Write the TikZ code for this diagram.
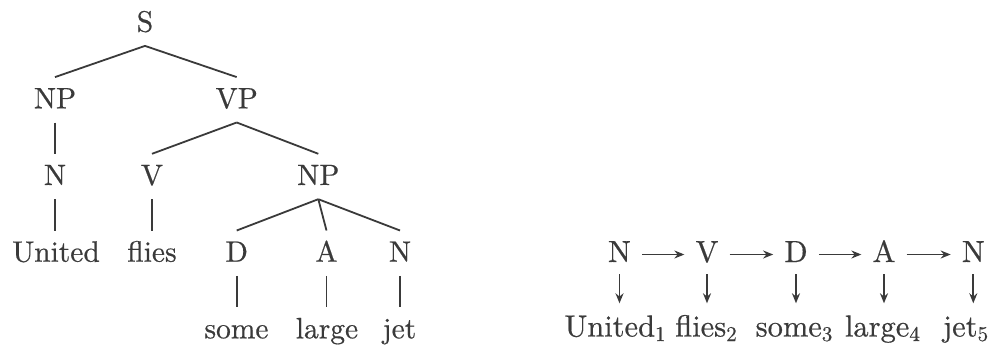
\documentclass[tikz,border=0pt]{standalone}
\usepackage{fontspec}
\setmainfont{lmroman10-regular}[Extension=.otf, FakeBold=0.5]
\usetikzlibrary{arrows.meta}
\definecolor{ink}{HTML}{3A3A3A}
\newcommand\lowidx[1]{\raisebox{-4.5pt}{\fontsize{21}{22}\selectfont #1}}
\begin{document}
\begin{tikzpicture}[x=1pt,y=-1pt,
  tl/.style={font=\fontsize{29.5}{34}\selectfont, text=ink, anchor=base,
    text height=20.5pt, text depth=3.5pt, inner ysep=10.5pt, inner xsep=2pt},
  rn/.style={font=\fontsize{30.5}{34}\selectfont, text=ink, anchor=base,
    text height=20.5pt, text depth=5.5pt, inner ysep=6.5pt, inner xsep=11pt},
  rw/.style={font=\fontsize{30.5}{34}\selectfont, text=ink, anchor=base,
    text height=21pt, text depth=6pt, inner ysep=12pt, inner xsep=0pt},
  tree/.style={draw=ink, line width=1.8pt},
  arr/.style={draw=ink, line width=1.7pt, -{Stealth[length=10pt,width=8pt]}}]
\useasboundingbox (0,0) rectangle (998,345);
% left tree
\node[tl] (S) at (145,31.7) {S};
\node[tl] (NPa) at (55,108.3) {NP};
\node[tl] (VP) at (236.7,108.3) {VP};
\node[tl] (Na) at (55,185) {N};
\node[tl] (V) at (152,185) {V};
\node[tl] (NPb) at (318.3,185) {NP};
\node[tl] (United) at (56,261.7) {United};
\node[tl] (flies) at (152,261.7) {flies};
\node[tl] (D) at (236.7,261.7) {D};
\node[tl] (A) at (326.5,261.7) {A};
\node[tl] (Nb) at (400,261.7) {N};
\node[tl] (some) at (236.5,338.3) {some};
\node[tl] (large) at (327,338.3) {large};
\node[tl] (jet) at (399.5,338.3) {jet};
\draw[tree] (S.south) -- (NPa.north);
\draw[tree] (S.south) -- (VP.north);
\draw[tree] (NPa.south) -- (Na.north);
\draw[tree] (VP.south) -- (V.north);
\draw[tree] (VP.south) -- (NPb.north);
\draw[tree] (Na.south) -- (Na.south |- United.north);
\draw[tree] (V.south) -- (V.south |- flies.north);
\draw[tree] (NPb.south) -- (D.north);
\draw[tree] (NPb.south) -- (A.north);
\draw[tree] (NPb.south) -- (Nb.north);
\draw[tree] (D.south) -- (D.south |- some.north);
\draw[tree] (A.south) -- (A.south |- large.north);
\draw[tree] (Nb.south) -- (Nb.south |- jet.north);
% right chain
\node[rn] (r1) at (619.5,262) {N};
\node[rn] (r2) at (707,262) {V};
\node[rn] (r3) at (796,262) {D};
\node[rn] (r4) at (884,262) {A};
\node[rn] (r5) at (973.3,262) {N};
\node[rw] (w1) at (615,336.5) {United\lowidx{1}};
\node[rw] (w2) at (706,336.5) {flies\lowidx{2}};
\node[rw] (w3) at (794,336.5) {some\lowidx{3}};
\node[rw] (w4) at (882.4,336.5) {large\lowidx{4}};
\node[rw] (w5) at (965.5,336.5) {jet\lowidx{5}};
\draw[arr] (r1.east) -- (r2.west);
\draw[arr] (r2.east) -- (r3.west);
\draw[arr] (r3.east) -- (r4.west);
\draw[arr] (r4.east) -- (r5.west);
\draw[arr] (r1.south) -- (r1.south |- w1.north);
\draw[arr] (r2.south) -- (r2.south |- w2.north);
\draw[arr] (r3.south) -- (r3.south |- w3.north);
\draw[arr] (r4.south) -- (r4.south |- w4.north);
\draw[arr] (r5.south) -- (r5.south |- w5.north);
\end{tikzpicture}
\end{document}
